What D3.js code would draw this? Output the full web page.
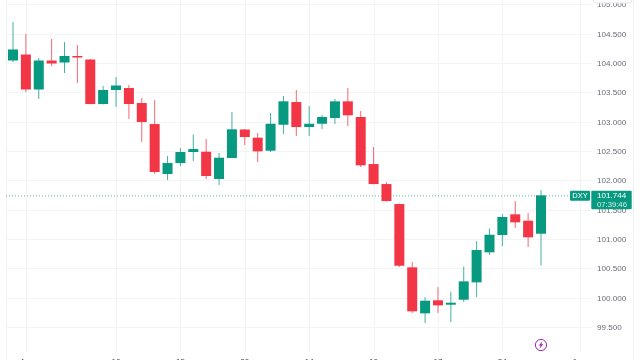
<!DOCTYPE html>
<html><head><meta charset="utf-8">
<script src="https://cdn.jsdelivr.net/npm/d3@7"></script>
<style>html,body{margin:0;background:#fff}svg{display:block;filter:blur(.35px)}text{font-family:"Liberation Sans",Arial,sans-serif}</style>
</head><body><svg id="c" width="640" height="360"></svg>
<script>
const opens=[104.043,104.145,103.549,104.043,104.009,104.12,104.06,103.301,103.54,103.574,103.318,102.96,102.108,102.295,102.483,102.488,102.023,102.381,102.867,102.727,102.505,102.948,103.335,102.909,102.965,103.063,103.347,103.08,102.278,101.937,101.596,100.517,99.733,99.955,99.88,99.965,100.261,100.773,101.068,101.421,101.312,101.09];
const closes=[104.231,103.549,104.043,103.992,104.12,104.094,103.301,103.54,103.617,103.301,102.994,102.142,102.295,102.483,102.534,102.074,102.386,102.87,102.739,102.495,102.965,103.347,102.909,102.965,103.08,103.347,103.109,102.256,101.937,101.647,100.544,99.767,99.948,99.869,99.914,100.278,100.812,101.073,101.375,101.284,101.029,101.744];
const highs=[104.699,104.495,104.086,104.41,104.358,104.307,104.07,103.608,103.762,103.625,103.404,103.37,102.415,102.551,102.781,102.705,102.466,103.165,102.875,102.807,103.148,103.438,103.54,103.267,103.114,103.387,103.574,103.182,102.568,101.972,101.605,100.607,100.011,100.181,100.105,100.531,100.966,101.179,101.426,101.647,101.443,101.835];
const lows=[104.017,103.506,103.387,103.949,103.83,103.659,103.295,103.295,103.25,103.046,102.653,102.108,102.006,102.244,102.329,102.023,101.92,102.38,102.602,102.312,102.483,102.79,102.756,102.756,102.875,102.96,102.926,102.227,101.93,101.64,100.522,99.738,99.567,99.738,99.584,99.925,100.011,100.727,100.88,101.187,100.863,100.548];
const priceTicks=[99.5,100,100.5,101,101.5,102,102.5,103,103.5,104,104.5,105];
const gridIndex=[1,8,13,18,23,28,33,38,44];
const dateIndex=[0.7,8,13,18,23,28,33,38,43.64];
const dateLabels=["4","10","15","20","14","10","17","24","1"];
const lastPrice=101.744, symbol="DXY", countdown="07:39:46";

const svg=d3.select("#c");
const x=d3.scaleLinear().domain([0,41]).range([13,541]);
const y=d3.scaleLinear().domain([99.5,104.5]).range([327,33.7]);
const UP="#089981",DOWN="#f23645",GRID="#f3f4f6",TXT="#6a6d78";

// pane borders
svg.append("line").attr("x1",6.5).attr("x2",6.5).attr("y1",0).attr("y2",360).attr("stroke","#f0f1f3");
svg.append("line").attr("x1",633.5).attr("x2",633.5).attr("y1",0).attr("y2",360).attr("stroke","#f0f1f3");

// grid
svg.append("g").selectAll("line").data(priceTicks).join("line")
 .attr("x1",6).attr("x2",591).attr("y1",d=>Math.round(y(d))+.5).attr("y2",d=>Math.round(y(d))+.5).attr("stroke",GRID);
svg.append("g").selectAll("line").data(gridIndex).join("line")
 .attr("x1",d=>Math.round(x(d))+.5).attr("x2",d=>Math.round(x(d))+.5).attr("y1",0).attr("y2",352).attr("stroke",GRID);

// last price line
svg.append("line").attr("x1",6).attr("x2",570).attr("y1",y(lastPrice)+.5).attr("y2",y(lastPrice)+.5)
 .attr("stroke",UP).attr("stroke-dasharray","1 2").attr("opacity",.7);

// candles
const idx=d3.range(opens.length);
const g=svg.append("g");
g.selectAll("line").data(idx).join("line")
 .attr("x1",i=>x(i)).attr("x2",i=>x(i)).attr("y1",i=>y(highs[i])).attr("y2",i=>y(lows[i]))
 .attr("stroke",i=>closes[i]>=opens[i]?UP:DOWN).attr("stroke-width",1).attr("opacity",.75);
g.selectAll("rect").data(idx).join("rect")
 .attr("x",i=>x(i)-5).attr("width",10)
 .attr("y",i=>y(Math.max(opens[i],closes[i])))
 .attr("height",i=>Math.max(1.5,Math.abs(y(opens[i])-y(closes[i]))))
 .attr("fill",i=>closes[i]>=opens[i]?UP:DOWN);

// price axis labels
svg.append("g").selectAll("text").data(priceTicks).join("text")
 .attr("x",597).attr("y",d=>y(d)+3).attr("font-size",8.1).attr("fill",TXT).text(d=>d3.format(".3f")(d));

// date labels, clipped by window bottom
svg.append("g").selectAll("text").data(dateIndex).join("text")
 .attr("x",d=>x(d)).attr("y",364).attr("text-anchor","middle").attr("font-size",8.1).attr("fill","#444").text((d,i)=>dateLabels[i]);

// price tag
const py=y(lastPrice);
svg.append("rect").attr("x",570).attr("y",py-4.5).attr("width",20).attr("height",10).attr("rx",1).attr("fill",UP);
svg.append("text").attr("x",580).attr("y",py+3).attr("text-anchor","middle").attr("font-size",7.5).attr("fill","#fff").text(symbol);
svg.append("rect").attr("x",591.3).attr("y",py-4.5).attr("width",40.4).attr("height",18.5).attr("rx",1).attr("fill",UP);
svg.append("text").attr("x",597).attr("y",py+3).attr("font-size",8.1).attr("fill","#fff").text(lastPrice.toFixed(3));
svg.append("text").attr("x",597).attr("y",py+11.5).attr("font-size",7.7).attr("fill","#d5efe9").text(countdown);

// lightning marker
const mk=svg.append("g").attr("transform",`translate(${x(41)},345)`);
mk.append("circle").attr("r",5.6).attr("fill","#fff").attr("stroke","#9c27b0").attr("stroke-width",1);
mk.append("path").attr("d","M1.6,-3.8 L-2.4,0.6 L-0.3,0.6 L-1.6,3.8 L2.4,-0.7 L0.3,-0.7 Z").attr("fill","#9c27b0");

// top-right button edge
svg.append("rect").attr("x",593).attr("y",-12).attr("width",39).attr("height",15).attr("rx",3).attr("fill","#fff").attr("stroke","#e3e5e8");
</script></body></html>
